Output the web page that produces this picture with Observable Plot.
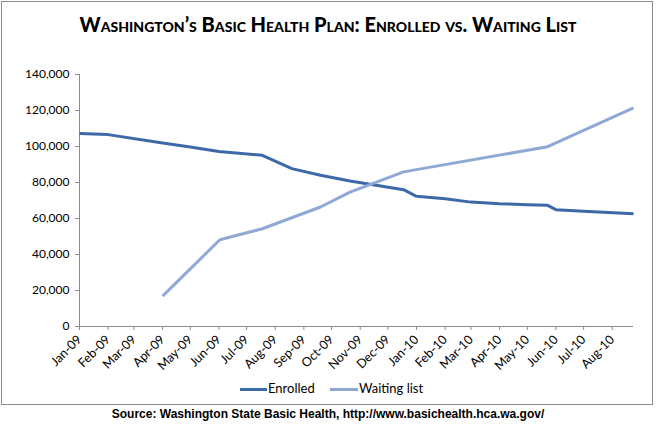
<!DOCTYPE html>
<html>
<head>
<meta charset="utf-8">
<script src="https://cdn.jsdelivr.net/npm/d3@7"></script>
<script src="https://cdn.jsdelivr.net/npm/@observablehq/plot@0.6"></script>
<style>
  html, body { margin: 0; padding: 0; background: #fff; }
  #wrap { position: relative; width: 656px; height: 427px; overflow: hidden; font-family: Lato, sans-serif; }
  #frame { position: absolute; left: 1px; top: 1px; width: 650px; height: 402px; border: 1.5px solid #8c8c8c; }
  #title { position: absolute; left: 0; width: 656px; top: 12px; text-align: center; font-family: Lato, sans-serif; font-weight: 900; font-size: 20px; font-variant: small-caps; color: #000; letter-spacing: 0px; }
  #chart { position: absolute; left: 0; top: 0; }
  #legend { position: absolute; top: 380px; left: 0; width: 656px; height: 18px; font-family: Lato, sans-serif; font-size: 13px; color: #000; }
  .sw { position: absolute; top: 8px; height: 3px; }
  .lt { position: absolute; top: 0px; }
  #source { position: absolute; left: 0; width: 656px; top: 407px; text-align: center; font-family: "Liberation Sans", sans-serif; font-weight: bold; font-size: 12px; color: #000; }
  #chart svg g[aria-label$="tick"] { stroke: #8c8c8c; }
  #chart svg text { fill: #000; }
  #chart svg g[aria-label="x-axis tick label"] { font-size: 12.5px; }
</style>
</head>
<body>
<div id="wrap">
  <div id="frame"></div>
  <div id="title">Washington’s Basic Health Plan: Enrolled vs. Waiting List</div>
  <div id="chart"></div>
  <div id="legend">
    <div class="sw" style="left:240px;width:27px;background:#3d69a8"></div>
    <div class="lt" style="left:268px">Enrolled</div>
    <div class="sw" style="left:330px;width:28px;background:#8fa9d5"></div>
    <div class="lt" style="left:359px">Waiting list</div>
  </div>
  <div id="source">Source: Washington State Basic Health, http://www.basichealth.hca.wa.gov/</div>
</div>
<script>
const monthLabels = ["Jan-09","Feb-09","Mar-09","Apr-09","May-09","Jun-09","Jul-09","Aug-09","Sep-09","Oct-09","Nov-09","Dec-09","Jan-10","Feb-10","Mar-10","Apr-10","May-10","Jun-10","Jul-10","Aug-10"];
const yTicks = [0, 20000, 40000, 60000, 80000, 100000, 120000, 140000];

const enrolledDates = ["2009-01-01","2009-02-01","2009-04-01","2009-05-01","2009-06-01","2009-07-18","2009-08-19","2009-09-19","2009-10-21","2009-12-18","2010-01-01","2010-02-01","2010-03-01","2010-04-01","2010-05-01","2010-05-23","2010-06-01","2010-07-01","2010-08-24"];
const enrolledValues = [107200,106600,101900,99700,97200,95100,87700,84000,80800,76000,72300,71000,69100,68200,67700,67300,64900,64000,62700];

const waitingDates = ["2009-04-01","2009-06-02","2009-07-18","2009-09-19","2009-10-21","2009-12-18","2010-05-23","2010-08-24"];
const waitingValues = [16900,48200,54300,66400,74700,85900,99900,121500];

const series = ["Enrolled", "Waiting list"];
const colors = ["#3d69a8", "#8fa9d5"];

const parseMonth = d3.utcParse("%b-%y");
const tickDates = monthLabels.map(parseMonth);
const enrolled = enrolledDates.map((d, i) => ({date: new Date(d + "T00:00:00Z"), value: enrolledValues[i], series: series[0]}));
const waiting = waitingDates.map((d, i) => ({date: new Date(d + "T00:00:00Z"), value: waitingValues[i], series: series[1]}));
const all = enrolled.concat(waiting);
const xDomain = d3.extent(all, d => d.date);

const chart = Plot.plot({
  width: 656,
  height: 380,
  marginLeft: 79,
  marginRight: 23,
  marginTop: 74,
  marginBottom: 54,
  style: {fontFamily: "Lato, sans-serif", fontSize: "12px", color: "#000", background: "transparent"},
  x: {type: "utc", domain: xDomain},
  y: {domain: [0, 140000]},
  color: {domain: series, range: colors},
  marks: [
    Plot.axisX({ticks: tickDates, tickFormat: d3.utcFormat("%b-%y"), tickRotate: -45, tickSize: 4, tickPadding: 7, label: null}),
    Plot.axisY({ticks: yTicks, tickFormat: d3.format(","), tickSize: 4, tickPadding: 6, label: null}),
    Plot.ruleY([0], {stroke: "#8c8c8c", strokeWidth: 1}),
    Plot.ruleX([xDomain[0]], {stroke: "#8c8c8c", strokeWidth: 1}),
    Plot.line(all, {x: "date", y: "value", z: "series", stroke: "series", strokeWidth: 3, strokeLinejoin: "round", strokeLinecap: "butt"})
  ]
});
document.getElementById("chart").appendChild(chart);
</script>
</body>
</html>
